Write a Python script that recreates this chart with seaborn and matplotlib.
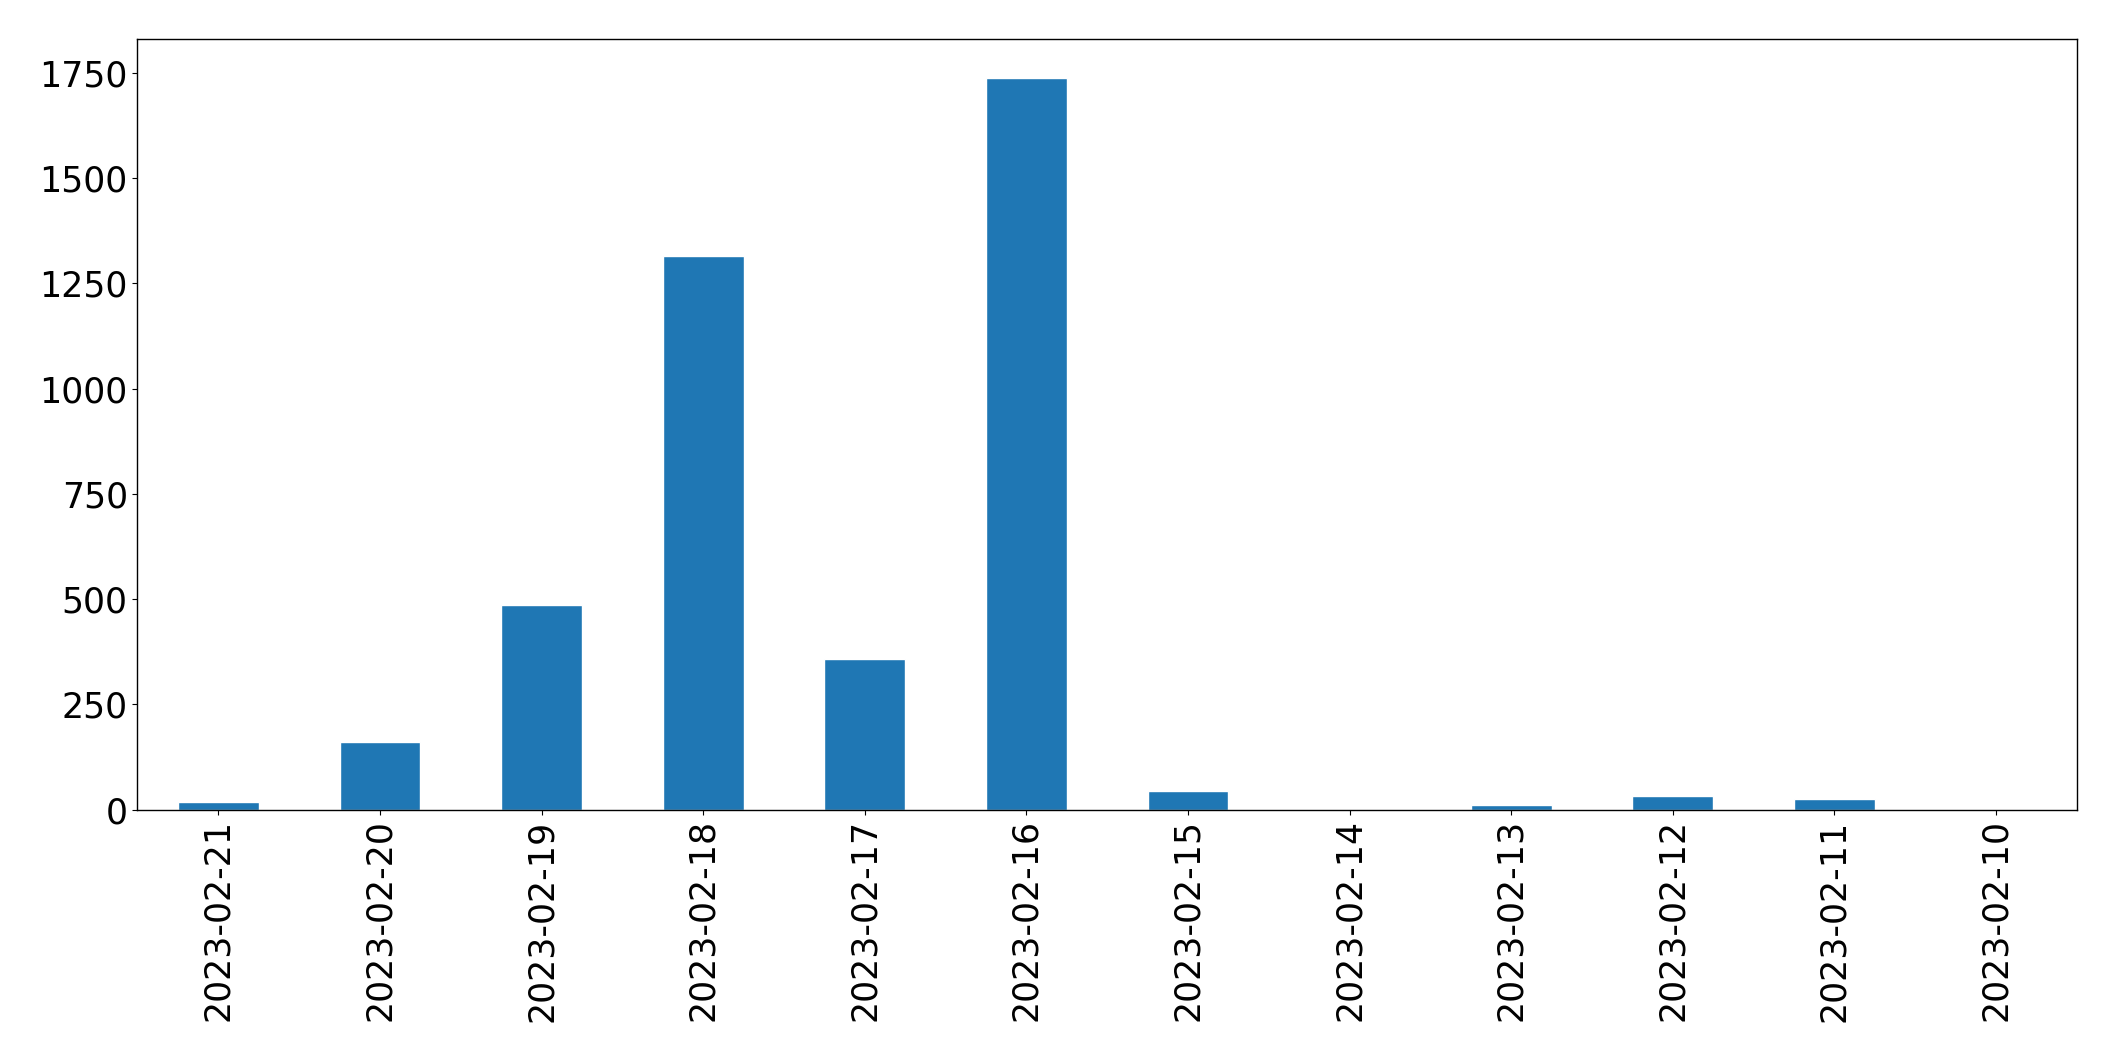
import numpy as np
import pandas as pd
import matplotlib
matplotlib.use("Agg")
import matplotlib.pyplot as plt
import seaborn as sb

# counts per day
dates = ["2023-02-21", "2023-02-20", "2023-02-19", "2023-02-18", "2023-02-17", "2023-02-16",
         "2023-02-15", "2023-02-14", "2023-02-13", "2023-02-12", "2023-02-11", "2023-02-10"]
counts = [19, 161, 486, 1316, 358, 1738, 43, 0, 10, 31, 24, 0]

dataset = pd.DataFrame({"date": dates, "count": counts})

sb.set_style("ticks")
plt.rcParams["font.family"] = ["DejaVu Sans"]
plt.rcParams["text.color"] = "black"
plt.rcParams["xtick.color"] = "black"
plt.rcParams["ytick.color"] = "black"

fig, ax = plt.subplots(figsize=(21.15, 10.61), dpi=100)
sb.barplot(data=dataset, x="date", y="count", color="#1f77b4", saturation=1,
           width=0.5, order=dates, ax=ax)

ax.set_xlim(-0.5, len(dates) - 0.5)
ax.set_ylim(0, 1830)
ax.set_xlabel("")
ax.set_ylabel("")
ax.tick_params(axis="x", labelrotation=90, labelsize=25, colors="black")
ax.tick_params(axis="y", labelsize=25, colors="black")
for side in ["top", "right", "left", "bottom"]:
    ax.spines[side].set_visible(True)
    ax.spines[side].set_color("black")
    ax.spines[side].set_linewidth(1)

fig.subplots_adjust(left=0.065, right=0.982, top=0.963, bottom=0.237)
fig.savefig("out.png", dpi=100)
